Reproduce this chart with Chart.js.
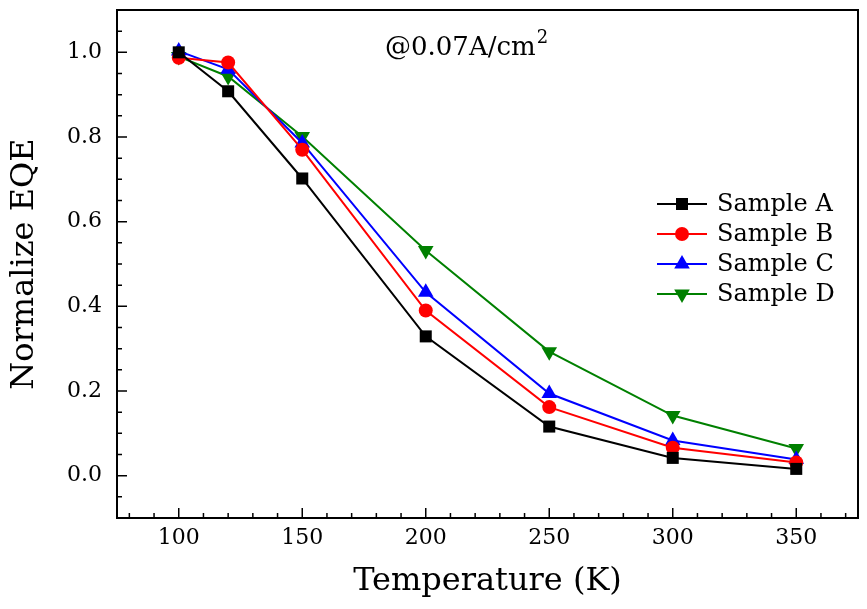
<!DOCTYPE html>
<html>
<head>
<meta charset="utf-8">
<script src="https://cdn.jsdelivr.net/npm/chart.js@4/dist/chart.umd.min.js"></script>
<style>
  html, body { margin: 0; padding: 0; background: #fff; }
  #wrap { width: 867px; height: 609px; }
</style>
</head>
<body>
<div id="wrap"><canvas id="c"></canvas></div>
<script>
// temperatures (K) and normalized EQE
const temps   = [100, 120, 150, 200, 250, 300, 350];
const sampleA = [1.000, 0.908, 0.702, 0.329, 0.116, 0.042, 0.016];
const sampleB = [0.987, 0.976, 0.770, 0.390, 0.162, 0.066, 0.031];
const sampleC = [1.003, 0.960, 0.786, 0.433, 0.194, 0.083, 0.038];
const sampleD = [0.990, 0.943, 0.801, 0.532, 0.293, 0.142, 0.064];

const xTicks = [100, 150, 200, 250, 300, 350];
const yTicks = [0.0, 0.2, 0.4, 0.6, 0.8, 1.0];
const xMinor = [80, 90, 110, 120, 130, 140, 160, 170, 180, 190, 210, 220, 230, 240,
                260, 270, 280, 290, 310, 320, 330, 340, 360, 370];
const yMinor = [-0.05, 0.05, 0.1, 0.15, 0.25, 0.3, 0.35, 0.45, 0.5, 0.55,
                0.65, 0.7, 0.75, 0.85, 0.9, 0.95, 1.05];

const FONT = '"DejaVu Serif", "Liberation Serif", serif';

const series = [
    { label: 'Sample A', data: sampleA, color: '#000000', style: 'rect',     radius: 8.5 },
    { label: 'Sample B', data: sampleB, color: '#ff0000', style: 'circle',   radius: 7 },
    { label: 'Sample C', data: sampleC, color: '#0000ff', style: 'triangle', radius: 9 },
    { label: 'Sample D', data: sampleD, color: '#008000', style: 'triangle', radius: 9, rot: 180 },
];

const datasets = series.map(s => ({
    label: s.label,
    data: temps.map((t, i) => ({ x: t, y: s.data[i] })),
    showLine: true,
    borderColor: s.color,
    backgroundColor: s.color,
    borderWidth: 2,
    pointStyle: s.style,
    pointRadius: s.radius,
    pointRotation: s.rot || 0,
    pointBorderWidth: 0,
    pointBackgroundColor: s.color,
}));

// inward ticks, frame, annotation and legend
const decor = {
    id: 'decor',
    afterDraw(chart) {
        const { ctx, chartArea: a, scales: { x, y } } = chart;
        ctx.save();
        ctx.strokeStyle = '#000';
        ctx.lineWidth = 2;
        ctx.strokeRect(a.left, a.top, a.right - a.left, a.bottom - a.top);

        ctx.lineWidth = 1.5;
        ctx.beginPath();
        xTicks.forEach(v => { const p = x.getPixelForValue(v); ctx.moveTo(p, a.bottom); ctx.lineTo(p, a.bottom - 10); });
        xMinor.forEach(v => { const p = x.getPixelForValue(v); ctx.moveTo(p, a.bottom); ctx.lineTo(p, a.bottom - 5); });
        yTicks.forEach(v => { const p = y.getPixelForValue(v); ctx.moveTo(a.left, p); ctx.lineTo(a.left + 10, p); });
        yMinor.forEach(v => { const p = y.getPixelForValue(v); ctx.moveTo(a.left, p); ctx.lineTo(a.left + 5, p); });
        ctx.stroke();

        // annotation
        ctx.fillStyle = '#000';
        ctx.textBaseline = 'alphabetic';
        ctx.textAlign = 'left';
        ctx.font = '26px ' + FONT;
        const txt = '@0.07A/cm';
        const ax = 385, ay = 55;
        ctx.fillText(txt, ax, ay);
        const w = ctx.measureText(txt).width;
        ctx.font = '18px ' + FONT;
        ctx.fillText('2', ax + w + 1, ay - 12);

        // legend
        ctx.font = '24px ' + FONT;
        ctx.textBaseline = 'middle';
        series.forEach((s, i) => {
            const ly = 204 + i * 30;
            ctx.strokeStyle = s.color;
            ctx.lineWidth = 2;
            ctx.beginPath();
            ctx.moveTo(657, ly); ctx.lineTo(707, ly);
            ctx.stroke();
            ctx.fillStyle = s.color;
            Chart.helpers.drawPoint(ctx, {
                pointStyle: s.style, radius: s.radius, rotation: s.rot || 0, borderWidth: 0
            }, 682, ly);
            ctx.fillStyle = '#000';
            ctx.fillText(s.label, 717, ly + 1);
        });
        ctx.restore();
    }
};

new Chart(document.getElementById('c'), {
    type: 'scatter',
    data: { datasets },
    plugins: [decor],
    options: {
        responsive: true,
        maintainAspectRatio: false,
        animation: false,
        layout: { padding: { top: 10, right: 9, left: 0, bottom: 0 } },
        plugins: { legend: { display: false }, tooltip: { enabled: false } },
        scales: {
            x: {
                type: 'linear', min: 75, max: 375,
                afterBuildTicks: s => { s.ticks = xTicks.map(v => ({ value: v })); },
                afterFit: s => { s.height = 91; s.paddingLeft = 0; s.paddingRight = 0; },
                grid: { display: false, drawTicks: false },
                border: { display: false },
                ticks: { padding: 7, color: '#000', font: { family: FONT, size: 22 } },
                title: {
                    display: true, text: 'Temperature (K)', color: '#000',
                    font: { family: FONT, size: 32 }, padding: { top: 0, bottom: 8 }
                }
            },
            y: {
                type: 'linear', min: -0.1, max: 1.1,
                afterBuildTicks: s => { s.ticks = yTicks.map(v => ({ value: v })); },
                afterFit: s => { s.width = 117; s.paddingTop = 0; s.paddingBottom = 0; },
                grid: { display: false, drawTicks: false },
                border: { display: false },
                ticks: {
                    padding: 15, color: '#000', font: { family: FONT, size: 22 },
                    callback: v => v.toFixed(1)
                },
                title: {
                    display: true, text: 'Normalize EQE', color: '#000',
                    font: { family: FONT, size: 32 }, padding: { top: 5, bottom: 0 }
                }
            }
        }
    }
});
</script>
</body>
</html>
